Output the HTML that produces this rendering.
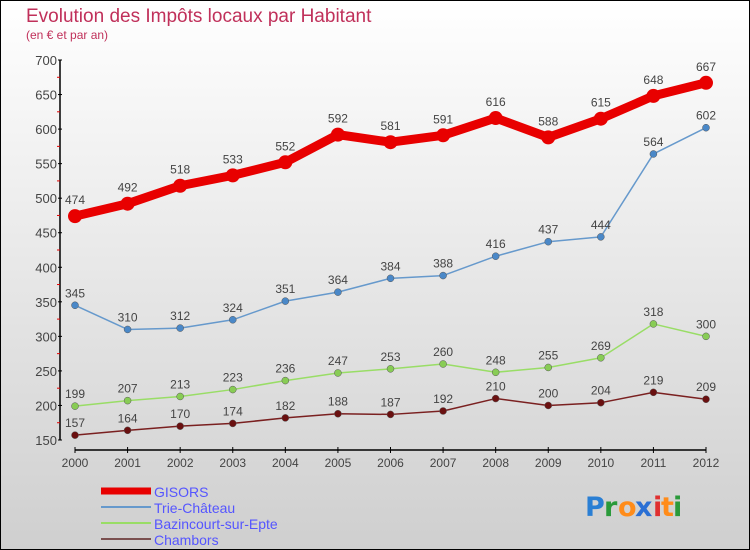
<!DOCTYPE html>
<html><head><meta charset="utf-8"><style>
html,body{margin:0;padding:0}
body{width:750px;height:550px;overflow:hidden;font-family:"Liberation Sans","DejaVu Sans",sans-serif}
#wrap{position:relative;width:748px;height:548px;border:1px solid #000;background:linear-gradient(#ffffff,#cfcfcf)}
</style></head><body>
<div id="wrap">
<svg id="chart" width="748" height="548" viewBox="1 1 748 548" style="position:absolute;left:0;top:0">
<text x="26" y="22" font-size="19" fill="#c0305a">Evolution des Impôts locaux par Habitant</text>
<text x="26" y="39" font-size="12" fill="#c0305a">(en € et par an)</text>
<g id="axes"></g>
<g id="series"></g>
<g id="legend"></g>
<g font-size="27" font-weight="bold" font-family="'DejaVu Sans',sans-serif">
<text x="585" y="516" fill="#2a7fd4">P</text><text x="604" y="516" fill="#2a9a3a">r</text><text x="618" y="516" fill="#ff8c1a">o</text><text x="635" y="516" fill="#2a6fd4">x</text><text x="653" y="516" fill="#e03030">i</text><text x="661" y="516" fill="#ff8c1a">t</text><text x="673" y="516" fill="#2a9a3a">i</text>
</g>
</svg>
</div>
<script>
const years=[2000,2001,2002,2003,2004,2005,2006,2007,2008,2009,2010,2011,2012];
const yTicks=[150,200,250,300,350,400,450,500,550,600,650,700];
const gisors=[474,492,518,533,552,592,581,591,616,588,615,648,667];
const trie=[345,310,312,324,351,364,384,388,416,437,444,564,602];
const bazin=[199,207,213,223,236,247,253,260,248,255,269,318,300];
const chambors=[157,164,170,174,182,188,187,192,210,200,204,219,209];
const NS="http://www.w3.org/2000/svg";
function X(i){return 75+i*(706-75)/(years.length-1);}
function Y(v){return 60+(700-v)*380/550;}
function mk(tag,attrs,parent){const e=document.createElementNS(NS,tag);for(const k in attrs)e.setAttribute(k,attrs[k]);parent.appendChild(e);return e;}
const axes=document.getElementById('axes');
let l=mk('line',{x1:60,y1:Y(700),x2:60,y2:Y(150),stroke:'#000','stroke-width':1.5},axes);


l=mk('line',{x1:75,y1:450,x2:706,y2:450,stroke:'#000','stroke-width':1.5},axes);


yTicks.forEach(v=>{
 mk('line',{x1:58,x2:62,y1:Y(v),y2:Y(v),stroke:'#000'},axes);
 const t=mk('text',{x:57,y:Y(v)+5,'text-anchor':'end','font-size':13,fill:'#444'},axes);
 t.textContent=v;
 
 
 if(v<700) mk('line',{x1:57,x2:60,y1:Y(v+25),y2:Y(v+25),stroke:'#e00000'},axes);
});
years.forEach((yr,i)=>{
 mk('line',{x1:X(i),x2:X(i),y1:447,y2:453,stroke:'#000'},axes);
 const t=mk('text',{x:X(i),y:467,'text-anchor':'middle','font-size':12,fill:'#444'},axes);
 t.textContent=yr;
 
 
});
const ser=document.getElementById('series');
const defs=[
 {name:'chambors',d:chambors,c:'#7a2020',w:1.5,r:3.5,dot:'#6a1010'},
 {name:'bazincourt',d:bazin,c:'#99dd66',w:1.5,r:3.5,dot:'#88cc55'},
 {name:'trie-chateau',d:trie,c:'#6699cc',w:1.5,r:3.5,dot:'#4a88c8'},
 {name:'gisors',d:gisors,c:'#e80000',w:9,r:7,dot:'#e80000'}
];
defs.forEach(s=>{
 const g=mk('g',{},ser);
 
 
 const p=mk('polyline',{points:s.d.map((v,i)=>X(i)+','+Y(v)).join(' '),fill:'none',stroke:s.c,'stroke-width':s.w,'stroke-linejoin':'round'},g);
 
 
 s.d.forEach((v,i)=>{
  const c=mk('circle',{cx:X(i),cy:Y(v),r:s.r,fill:s.dot,stroke:s.name=='gisors'?'none':'#555','stroke-width':0.5},g);
  
  
  const t=mk('text',{x:X(i),y:Y(v)-(s.name=='gisors'?12:8),'text-anchor':'middle','font-size':12,fill:'#444'},g);
  t.textContent=v;
  
  
 });
});
const leg=document.getElementById('legend');
const items=[['GISORS','#e80000',7],['Trie-Château','#6699cc',2],['Bazincourt-sur-Epte','#99dd66',2],['Chambors','#7a5050',2]];
items.forEach((it,k)=>{
 const y=491+k*16;
 const g=mk('g',{},leg);
 
 
 mk('line',{x1:101,x2:151,y1:y,y2:y,stroke:it[1],'stroke-width':it[2]},g);
 const t=mk('text',{x:154,y:y+6,'font-size':14,fill:'#5555ff'},g);
 t.textContent=it[0];
});
</script>
</body></html>
